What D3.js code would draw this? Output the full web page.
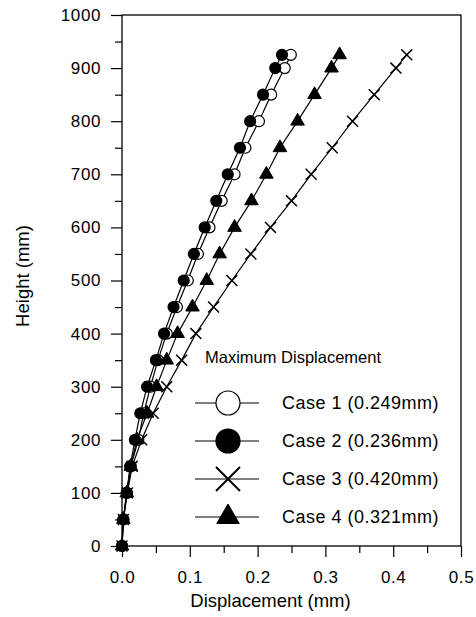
<!DOCTYPE html>
<html>
<head>
<meta charset="utf-8">
<script src="https://cdn.jsdelivr.net/npm/d3@7"></script>
<style>
  body { margin: 0; background: #fff; }
  svg { font-family: "Liberation Sans", Arial, sans-serif; }
</style>
</head>
<body>
<svg id="chart" width="476" height="617"></svg>
<script>
// heights along the wall (mm)
var heights = [0, 50, 100, 150, 200, 250, 300, 350, 400, 450, 500, 550, 600, 650, 700, 750, 800, 850, 900, 925];

// displacement (mm) for each case
var case1 = [0, 0.002, 0.007, 0.013, 0.024, 0.032, 0.042, 0.053, 0.066, 0.081, 0.097, 0.112, 0.129, 0.147, 0.166, 0.182, 0.202, 0.220, 0.240, 0.249];
var case2 = [0, 0.002, 0.007, 0.012, 0.019, 0.027, 0.037, 0.050, 0.062, 0.076, 0.091, 0.106, 0.122, 0.139, 0.156, 0.174, 0.189, 0.208, 0.226, 0.236];
var case3 = [0, 0.002, 0.008, 0.015, 0.029, 0.046, 0.066, 0.088, 0.109, 0.135, 0.162, 0.190, 0.219, 0.250, 0.279, 0.310, 0.340, 0.372, 0.404, 0.420];
var case4 = [0, 0.002, 0.007, 0.013, 0.022, 0.037, 0.051, 0.066, 0.082, 0.104, 0.125, 0.144, 0.166, 0.191, 0.213, 0.233, 0.259, 0.284, 0.309, 0.321];

var caseNames = ["Case 1 (0.249mm)", "Case 2 (0.236mm)", "Case 3 (0.420mm)", "Case 4 (0.321mm)"];

var xTicks = [0, 0.1, 0.2, 0.3, 0.4, 0.5];
var yTicks = [0, 100, 200, 300, 400, 500, 600, 700, 800, 900, 1000];

var series = [
  { name: caseNames[0], values: case1, marker: "open" },
  { name: caseNames[1], values: case2, marker: "dot" },
  { name: caseNames[2], values: case3, marker: "cross" },
  { name: caseNames[3], values: case4, marker: "tri" }
];

// plot box edges (window.top is taken, so prefix them)
var pLeft = 122, pTop = 15, pRight = 461, pBottom = 546;

var svg = d3.select("#chart");

var x = d3.scaleLinear().domain([0, 0.5]).range([pLeft, pRight]);
var y = d3.scaleLinear().domain([0, 1000]).range([pBottom, pTop]);

// frame
svg.append("rect")
  .attr("x", pLeft).attr("y", pTop)
  .attr("width", pRight - pLeft).attr("height", pBottom - pTop)
  .attr("fill", "none").attr("stroke", "#000").attr("stroke-width", 1.3);

// minor ticks first
svg.append("g")
  .attr("transform", "translate(" + pLeft + ",0)")
  .call(d3.axisLeft(y).tickValues(d3.range(50, 1000, 100)).tickSize(7).tickSizeOuter(0).tickFormat(""))
  .call(function(g) { g.select(".domain").remove(); });
svg.append("g")
  .attr("transform", "translate(0," + pBottom + ")")
  .call(d3.axisBottom(x).tickValues(d3.range(0.05, 0.5, 0.1)).tickSize(7).tickSizeOuter(0).tickFormat(""))
  .call(function(g) { g.select(".domain").remove(); });

// major axes
var yAxis = svg.append("g")
  .attr("transform", "translate(" + pLeft + ",0)")
  .call(d3.axisLeft(y).tickValues(yTicks).tickSize(11).tickSizeOuter(0).tickPadding(10).tickFormat(d3.format("d")));
yAxis.select(".domain").remove();

var xAxis = svg.append("g")
  .attr("transform", "translate(0," + pBottom + ")")
  .call(d3.axisBottom(x).tickValues(xTicks).tickSize(11).tickSizeOuter(0).tickPadding(14).tickFormat(d3.format(".1f")));
xAxis.select(".domain").remove();

svg.selectAll(".tick line").attr("stroke", "#000").attr("stroke-width", 1.2);
svg.selectAll(".tick text")
  .attr("fill", "#000")
  .style("font-size", "17px")
  .style("letter-spacing", "0.6px");

// axis titles
svg.append("text")
  .attr("x", (pLeft + pRight) / 2 - 21).attr("y", 607)
  .attr("text-anchor", "middle")
  .style("font-size", "18.5px")
  .text("Displacement (mm)");

svg.append("text")
  .attr("transform", "translate(29,276) rotate(-90)")
  .attr("text-anchor", "middle")
  .style("font-size", "18.5px")
  .text("Height (mm)");

// marker helper
function marker(sel, kind, big) {
  var s;
  if (kind == "open" || kind == "dot") {
    s = d3.symbol().type(d3.symbolCircle).size(big ? 452 : 95);
    sel.append("path").attr("d", s())
      .attr("fill", kind == "dot" ? "#000" : "#fff")
      .attr("stroke", "#000").attr("stroke-width", 1.2);
  } else if (kind == "cross") {
    s = d3.symbol().type(d3.symbolTimes).size(big ? 378 : 80);
    sel.append("path").attr("d", s())
      .attr("fill", "none").attr("stroke", "#000").attr("stroke-width", big ? 2 : 1.5);
  } else {
    s = d3.symbol().type(d3.symbolTriangle).size(big ? 220 : 80);
    sel.append("path").attr("d", s())
      .attr("fill", "#000").attr("stroke", "#000").attr("stroke-width", 1);
  }
}

var line = d3.line()
  .x(function(d) { return x(d[0]); })
  .y(function(d) { return y(d[1]); });

series.forEach(function(s) {
  var pts = s.values.map(function(v, i) { return [v, heights[i]]; });
  svg.append("path")
    .datum(pts)
    .attr("d", line)
    .attr("fill", "none")
    .attr("stroke", "#000")
    .attr("stroke-width", 1.2);

  svg.append("g").selectAll("g")
    .data(pts)
    .enter()
    .append("g")
    .attr("transform", function(d) { return "translate(" + x(d[0]) + "," + y(d[1]) + ")"; })
    .each(function() { marker(d3.select(this), s.marker, false); });
});

// legend
var legend = svg.append("g");
legend.append("text")
  .attr("x", 205).attr("y", 363)
  .style("font-size", "16.5px")
  .text("Maximum Displacement");

var rowY = [403, 441, 479, 517];
series.forEach(function(s, i) {
  var row = legend.append("g").attr("transform", "translate(0," + rowY[i] + ")");
  row.append("line")
    .attr("x1", 195).attr("x2", 259)
    .attr("stroke", "#000").attr("stroke-width", 1.2);
  var m = row.append("g").attr("transform", "translate(228,0)");
  marker(m, s.marker, true);
  row.append("text")
    .attr("x", 282).attr("dy", "0.35em")
    .style("font-size", "18px")
    .style("letter-spacing", "0.5px")
    .text(s.name);
});
</script>
</body>
</html>
